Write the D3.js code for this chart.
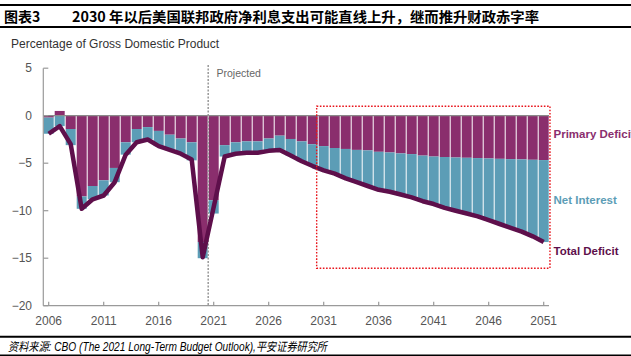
<!DOCTYPE html>
<html>
<head>
<meta charset="utf-8">
<script src="https://cdn.jsdelivr.net/npm/d3@7"></script>
<style>
  body { margin: 0; background: #fff; }
  svg { display: block; }
</style>
</head>
<body>
<svg id="chart" width="631" height="356"></svg>
<script>
// ---- Data (percentage of GDP) ----
const years = [2006,2007,2008,2009,2010,2011,2012,2013,2014,2015,2016,2017,2018,2019,2020,
  2021,2022,2023,2024,2025,2026,2027,2028,2029,2030,2031,2032,2033,2034,2035,2036,2037,2038,
  2039,2040,2041,2042,2043,2044,2045,2046,2047,2048,2049,2050,2051];
// primary balance (negative = deficit, positive = surplus)
const primaryDeficit = [-0.2,0.5,-1.4,-8.5,-7.4,-6.8,-5.5,-2.8,-1.4,-1.2,-1.6,-2.0,-2.4,-2.8,-13.3,
  -8.9,-3.1,-2.8,-2.7,-2.7,-2.4,-2.1,-2.45,-2.7,-3.0,-3.2,-3.4,-3.5,-3.6,-3.65,-3.8,-3.87,-3.97,
  -4.04,-4.2,-4.3,-4.35,-4.4,-4.43,-4.46,-4.5,-4.54,-4.57,-4.6,-4.64,-4.67];
const netInterest = [-1.7,-1.6,-1.7,-1.3,-1.4,-1.6,-1.5,-1.3,-1.4,-1.3,-1.6,-1.6,-1.6,-1.9,-1.7,
  -1.4,-1.2,-1.2,-1.2,-1.2,-1.3,-1.5,-1.75,-2.1,-2.3,-2.55,-2.7,-3.1,-3.4,-3.75,-4.0,-4.13,-4.33,
  -4.56,-4.8,-5.0,-5.35,-5.6,-5.87,-6.14,-6.5,-6.86,-7.23,-7.6,-8.06,-8.63];
const totalDeficit = [-1.9,-1.1,-3.0,-9.8,-8.8,-8.4,-7.0,-4.1,-2.8,-2.5,-3.2,-3.6,-4.0,-4.6,-14.9,
  -9.6,-4.3,-4.0,-3.9,-3.9,-3.7,-3.6,-4.2,-4.8,-5.3,-5.75,-6.1,-6.6,-7.0,-7.4,-7.8,-8.0,-8.3,
  -8.6,-9.0,-9.3,-9.7,-10.0,-10.3,-10.6,-11.0,-11.4,-11.8,-12.2,-12.7,-13.3];
const yTicks = [5,0,-5,-10,-15,-20];
const xTicks = [2006,2011,2016,2021,2026,2031,2036,2041,2046,2051];
const projectedStart = 2020.5;
const highlightRange = [2030.36, 2051.57];
const highlightValues = [1.0, -16.05];
const seriesLabels = ["Primary Deficit","Net Interest","Total Deficit"];
const labelValues = [-1.9, -8.9, -14.2];

const titleLead = "图表3";
const titleText = "2030 年以后美国联邦政府净利息支出可能直线上升，继而推升财政赤字率";
const yAxisTitle = "Percentage of Gross Domestic Product";
const projectedLabel = "Projected";
const sourceText = "资料来源: CBO (The 2021 Long-Term Budget Outlook),平安证券研究所";

const C_PRIMARY = "#8a2e6d", C_INTEREST = "#5c9db6", C_TOTAL = "#5e0f4b";
const AXIS = "#9a9a9a";

const svg = d3.select("#chart");
const x = d3.scaleLinear().domain([2006, 2051]).range([48.7, 543.7]);
const y = d3.scaleLinear().domain([-20, 5]).range([305.7, 68.2]);
const barW = 10;

// header
svg.append("line").attr("x1",0).attr("x2",631).attr("y1",5).attr("y2",5).attr("stroke","#000").attr("stroke-width",2.2);
svg.append("line").attr("x1",0).attr("x2",631).attr("y1",27).attr("y2",27).attr("stroke","#000").attr("stroke-width",2);
svg.append("text").attr("x",4).attr("y",21.5).text(titleLead)
  .attr("font-family","'Noto Sans CJK SC', sans-serif").attr("font-weight",700).attr("font-size",14).attr("fill","#000");
svg.append("text").attr("x",72).attr("y",21.5).text(titleText)
  .attr("font-family","'Noto Sans CJK SC', sans-serif").attr("font-weight",700).attr("font-size",14).attr("fill","#000")
  .attr("textLength",467).attr("lengthAdjust","spacingAndGlyphs");

svg.append("text").attr("x",11).attr("y",47.5).text(yAxisTitle)
  .attr("font-family","'Liberation Sans', Arial, sans-serif").attr("font-size",12).attr("fill","#333");

// bars
const g = svg.append("g");
years.forEach((yr, i) => {
  const p = primaryDeficit[i];
  const top0 = Math.min(0, p);
  const bottom = p + netInterest[i];
  g.append("rect")
    .attr("x", x(yr) - barW/2).attr("width", barW)
    .attr("y", y(Math.max(0, p))).attr("height", Math.abs(y(p) - y(0)))
    .attr("fill", C_PRIMARY);
  g.append("rect")
    .attr("x", x(yr) - barW/2).attr("width", barW)
    .attr("y", y(top0)).attr("height", Math.max(0, y(bottom) - y(top0)))
    .attr("fill", C_INTEREST);
});

// zero line
svg.append("line").attr("x1",43.3).attr("x2",549).attr("y1",y(0)).attr("y2",y(0))
  .attr("stroke","#8a8a8a").attr("stroke-width",1.2);

// axes
svg.append("line").attr("x1",43.3).attr("x2",43.3).attr("y1",y(5)).attr("y2",y(-20)).attr("stroke",AXIS).attr("stroke-width",1.2);
svg.append("line").attr("x1",43.3).attr("x2",549).attr("y1",y(-20)).attr("y2",y(-20)).attr("stroke",AXIS).attr("stroke-width",1.2);

yTicks.forEach(t => {
  svg.append("line").attr("x1",43.3).attr("x2",48.3).attr("y1",y(t)).attr("y2",y(t)).attr("stroke",AXIS).attr("stroke-width",1.2);
  svg.append("text").attr("x",32).attr("y",y(t)+4).attr("text-anchor","end")
    .text(t < 0 ? "\u2212" + Math.abs(t) : String(t))
    .attr("font-family","'Liberation Sans', Arial, sans-serif").attr("font-size",12).attr("fill","#555");
});
xTicks.forEach(t => {
  svg.append("line").attr("x1",x(t)).attr("x2",x(t)).attr("y1",y(-20)).attr("y2",y(-20)-4).attr("stroke",AXIS).attr("stroke-width",1.2);
  svg.append("text").attr("x",x(t)).attr("y",324.5).attr("text-anchor","middle").text(t)
    .attr("font-family","'Liberation Sans', Arial, sans-serif").attr("font-size",12).attr("fill","#555");
});

// projected divider
svg.append("line").attr("x1",x(projectedStart)).attr("x2",x(projectedStart)).attr("y1",65).attr("y2",y(-20))
  .attr("stroke","#999").attr("stroke-width",1.5).attr("stroke-dasharray","2,1.5");
svg.append("text").attr("x",216.5).attr("y",76.5).text(projectedLabel)
  .attr("font-family","'Liberation Sans', Arial, sans-serif").attr("font-size",10.5).attr("fill","#666");

// total deficit line
const line = d3.line().x((d,i) => x(years[i])).y(d => y(d)).curve(d3.curveLinear);
svg.append("path").datum(totalDeficit).attr("d", line)
  .attr("fill","none").attr("stroke",C_TOTAL).attr("stroke-width",4.5)
  .attr("stroke-linejoin","round").attr("stroke-linecap","butt");

// red highlight box
svg.append("rect")
  .attr("x", x(highlightRange[0])).attr("y", y(highlightValues[0]))
  .attr("width", x(highlightRange[1]) - x(highlightRange[0]))
  .attr("height", y(highlightValues[1]) - y(highlightValues[0]))
  .attr("fill","none").attr("stroke","#e8141b").attr("stroke-width",1.4).attr("stroke-dasharray","1.6,1.6");

// series labels
const labelColors = [C_PRIMARY, C_INTEREST, C_TOTAL];
seriesLabels.forEach((s, i) => {
  svg.append("text").attr("x",553.5).attr("y",y(labelValues[i])+4).text(s)
    .attr("font-family","'Liberation Sans', Arial, sans-serif").attr("font-weight",700)
    .attr("font-size",11.5).attr("fill",labelColors[i]);
});

// footer
svg.append("line").attr("x1",0).attr("x2",631).attr("y1",336.8).attr("y2",336.8).attr("stroke","#000").attr("stroke-width",2);
svg.append("line").attr("x1",0).attr("x2",631).attr("y1",355.3).attr("y2",355.3).attr("stroke","#000").attr("stroke-width",1.8);
svg.append("text").attr("x",8).attr("y",350.5).text(sourceText)
  .attr("font-family","'Liberation Sans', 'Noto Sans CJK SC', sans-serif").attr("font-style","italic")
  .attr("font-size",12).attr("fill","#000")
  .attr("textLength",319).attr("lengthAdjust","spacingAndGlyphs");
</script>
</body>
</html>
